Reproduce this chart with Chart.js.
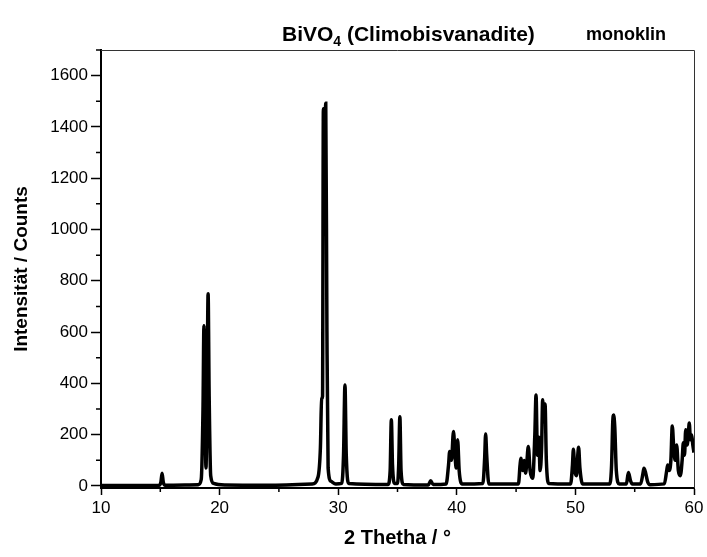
<!DOCTYPE html>
<html>
<head>
<meta charset="utf-8">
<script src="https://cdn.jsdelivr.net/npm/chart.js@4.4.1/dist/chart.umd.min.js"></script>
<style>
  body { margin: 0; background: #fff; }
  #wrap { width: 707px; height: 557px; }
</style>
</head>
<body>
<div id="wrap"><canvas id="xrd" width="707" height="557"></canvas></div>
<script>
// diffractogram (2 theta in degrees, counts)
const twoTheta = [
  10.0, 14.9, 15.05, 15.15, 15.25, 15.4,
  18.2, 18.45, 18.6, 18.68, 18.78, 18.85, 18.95, 19.03, 19.12, 19.25, 19.5, 20.5, 24.0,
  27.8, 28.3, 28.5, 28.6, 28.68, 28.75, 28.85, 28.95, 29.05, 29.15, 29.4, 29.8,
  30.3, 30.45, 30.57, 30.68, 30.9,
  34.2, 34.38, 34.48, 34.58, 34.75, 35.0, 35.1, 35.2, 35.3, 35.5,
  37.6, 37.8, 38.0,
  39.1, 39.3, 39.4, 39.55, 39.72, 39.85, 39.95, 40.07, 40.2, 40.45,
  42.2, 42.35, 42.43, 42.52, 42.7,
  45.2, 45.33, 45.4, 45.55, 45.67, 45.8, 45.9, 46.03, 46.18, 46.4,
  46.58, 46.68, 46.8, 46.92, 47.02, 47.15, 47.24, 47.34, 47.44, 47.55, 47.75,
  49.6, 49.75, 49.83, 49.95, 50.1, 50.2, 50.27, 50.38, 50.6,
  52.9, 53.05, 53.15, 53.22, 53.32, 53.45, 53.7,
  54.3, 54.47, 54.65, 54.8,
  55.5, 55.7, 55.78, 55.9, 56.1, 56.3,
  57.5, 57.7, 57.78, 57.9, 58.05, 58.17, 58.3, 58.42, 58.54, 58.68, 58.85,
  59.0, 59.1, 59.2, 59.3, 59.42, 59.52, 59.6, 59.7, 59.8, 59.9, 60.0
];
const counts = [
  2, 3, 15, 50, 15, 3,
  5, 25, 300, 625, 300, 70, 400, 749, 350, 40, 10, 4, 3,
  8, 35, 150, 340, 350, 1471, 1300, 1492, 600, 70, 18, 8,
  10, 120, 394, 120, 10,
  6, 60, 258, 80, 10, 10, 80, 270, 60, 6,
  4, 20, 6,
  8, 80, 134, 100, 212, 120, 70, 180, 60, 8,
  10, 110, 203, 120, 8,
  8, 80, 108, 60, 99, 50, 90, 154, 60, 30,
  200, 355, 120, 190, 60, 150, 336, 250, 320, 100, 10,
  8, 80, 143, 60, 40, 120, 151, 70, 8,
  8, 80, 250, 277, 230, 60, 8,
  8, 52, 20, 8,
  8, 50, 69, 55, 15, 5,
  8, 60, 82, 60, 100, 234, 140, 100, 160, 60, 40,
  100, 168, 120, 219, 160, 200, 245, 180, 200, 160, 130
];
const xTicks = [10, 20, 30, 40, 50, 60];
const xMinor = [15, 25, 35, 45, 55];
const yTicks = [0, 200, 400, 600, 800, 1000, 1200, 1400, 1600];
const yMinor = [100, 300, 500, 700, 900, 1100, 1300, 1500, 1700];

const FONT = '"Liberation Sans", Arial, sans-serif';

const frame = {
  id: 'frame',
  afterDraw(chart) {
    const { ctx, chartArea: a, scales: { x, y } } = chart;
    ctx.save();
    // top and right edges of the box
    ctx.strokeStyle = '#333';
    ctx.lineWidth = 1;
    ctx.beginPath();
    ctx.moveTo(a.left, a.top + 0.5);
    ctx.lineTo(a.right + 0.5, a.top + 0.5);
    ctx.lineTo(a.right + 0.5, a.bottom);
    ctx.stroke();
    // minor ticks
    ctx.strokeStyle = '#000';
    ctx.lineWidth = 1.5;
    ctx.beginPath();
    xMinor.forEach(v => {
      const px = x.getPixelForValue(v);
      ctx.moveTo(px, a.bottom);
      ctx.lineTo(px, a.bottom + 4);
    });
    yMinor.forEach(v => {
      const py = y.getPixelForValue(v);
      ctx.moveTo(a.left, py);
      ctx.lineTo(a.left - 5, py);
    });
    ctx.stroke();
    // title
    ctx.fillStyle = '#000';
    ctx.textBaseline = 'alphabetic';
    ctx.font = 'bold 21px ' + FONT;
    let tx = 282;
    ctx.fillText('BiVO', tx, 41);
    tx += ctx.measureText('BiVO').width;
    ctx.font = 'bold 14px ' + FONT;
    ctx.fillText('4', tx, 46);
    tx += ctx.measureText('4').width;
    ctx.font = 'bold 21px ' + FONT;
    ctx.fillText(' (Climobisvanadite)', tx, 41);
    ctx.font = 'bold 18px ' + FONT;
    ctx.fillText('monoklin', 586, 40);
    ctx.restore();
  }
};

new Chart(document.getElementById('xrd').getContext('2d'), {
  type: 'line',
  data: {
    datasets: [{
      data: twoTheta.map((t, i) => ({ x: t, y: counts[i] })),
      borderColor: '#000',
      borderWidth: 3.5,
      pointRadius: 0,
      cubicInterpolationMode: 'monotone',
      fill: false
    }]
  },
  options: {
    responsive: false,
    animation: false,
    layout: { padding: { top: 50, right: 13, left: 0, bottom: 0 } },
    plugins: { legend: { display: false }, tooltip: { enabled: false } },
    scales: {
      x: {
        type: 'linear',
        min: 10,
        max: 60,
        afterBuildTicks: s => { s.ticks = xTicks.map(v => ({ value: v })); },
        afterFit: s => { s.height = 69; },
        ticks: { color: '#000', padding: 3, maxRotation: 0, callback: v => String(v),
                 font: { family: FONT, size: 17 } },
        grid: { drawOnChartArea: false, drawTicks: true, tickLength: 7, tickColor: '#000', tickWidth: 1.5 },
        border: { color: '#000', width: 2 },
        title: { display: true, text: '2 Thetha / °', color: '#000', padding: { top: 2, bottom: 7 },
                 font: { family: FONT, size: 20, weight: 'bold' } }
      },
      y: {
        min: -8,
        max: 1700,
        afterBuildTicks: s => { s.ticks = yTicks.map(v => ({ value: v })); },
        afterFit: s => { s.width = 101; },
        ticks: { color: '#000', padding: 3, callback: v => String(v),
                 font: { family: FONT, size: 17 } },
        grid: { drawOnChartArea: false, drawTicks: true, tickLength: 10, tickColor: '#000', tickWidth: 1.5 },
        border: { color: '#000', width: 2 },
        title: { display: true, text: 'Intensität / Counts', color: '#000', padding: { top: 10, bottom: 0 },
                 font: { family: FONT, size: 19, weight: 'bold' } }
      }
    }
  },
  plugins: [frame]
});
</script>
</body>
</html>
